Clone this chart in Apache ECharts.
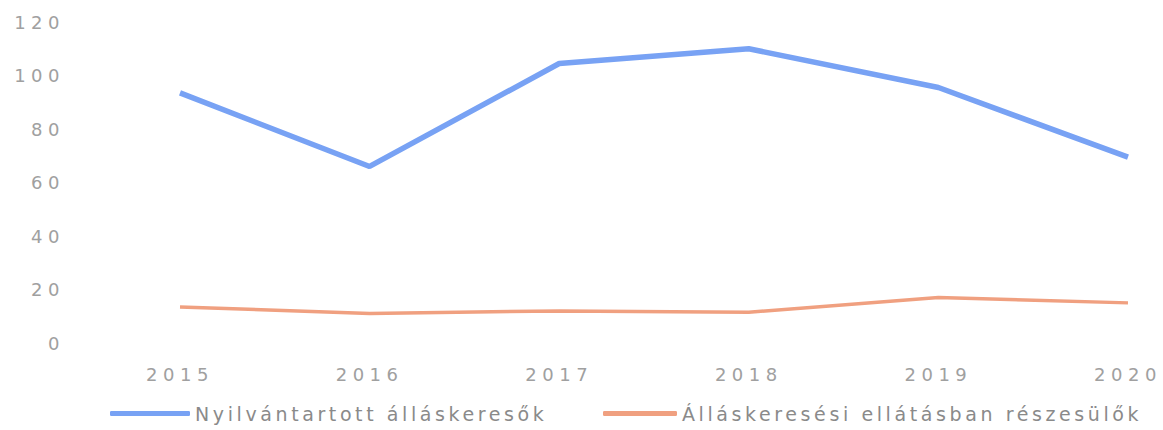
<!DOCTYPE html>
<html>
<head>
<meta charset="utf-8">
<script src="https://cdn.jsdelivr.net/npm/echarts@6/dist/echarts.min.js"></script>
<style>
  html, body { margin: 0; padding: 0; background: #fff; }
  #chart { width: 1163px; height: 430px; }
  /* the source picture is stretched sideways, so space the glyphs out */
  #chart text[style*="18px"] { letter-spacing: 5.5px; }
  #chart text[style*="19px"] { letter-spacing: 3.6px; }
</style>
</head>
<body>
<div id="chart"></div>
<script>
const years = ['2015', '2016', '2017', '2018', '2019', '2020'];
const registered = [93.5, 66, 104.5, 110, 95.5, 69.5];
const benefit = [13.5, 11, 12, 11.5, 17, 15];
const yTicks = { min: 0, max: 120, interval: 20 };
const names = ['Nyilvántartott álláskeresők', 'Álláskeresési ellátásban részesülők'];

const font = 'DejaVu Sans';
const legendText = { color: '#8a8a8a', fontSize: 19, fontFamily: font };
const chart = echarts.init(document.getElementById('chart'), null, { renderer: 'svg' });
chart.setOption({
  backgroundColor: '#fff',
  animation: false,
  grid: { left: 180, right: 35, top: 22, bottom: 87 },
  legend: [
    {
      left: 105, top: 399, itemWidth: 80, itemHeight: 5, icon: 'roundRect',
      textStyle: legendText, data: [names[0]]
    },
    {
      left: 598, top: 399, itemWidth: 74, itemHeight: 5, icon: 'roundRect',
      textStyle: legendText, data: [names[1]]
    }
  ],
  xAxis: {
    type: 'category',
    data: years,
    boundaryGap: false,
    axisLine: { show: false },
    axisTick: { show: false },
    axisLabel: { color: '#a0a0a0', fontSize: 18, fontFamily: font, margin: 22 }
  },
  yAxis: {
    type: 'value',
    min: yTicks.min,
    max: yTicks.max,
    interval: yTicks.interval,
    splitLine: { show: false },
    axisLine: { show: false },
    axisTick: { show: false },
    axisLabel: { color: '#a0a0a0', fontSize: 18, fontFamily: font, margin: 115 }
  },
  series: [
    {
      name: names[0],
      type: 'line',
      data: registered,
      symbol: 'none',
      color: '#78A2F4',
      lineStyle: { width: 5.5, color: '#78A2F4' }
    },
    {
      name: names[1],
      type: 'line',
      data: benefit,
      symbol: 'none',
      color: '#F0A080',
      lineStyle: { width: 3.5, color: '#F0A080' }
    }
  ]
});
</script>
</body>
</html>
